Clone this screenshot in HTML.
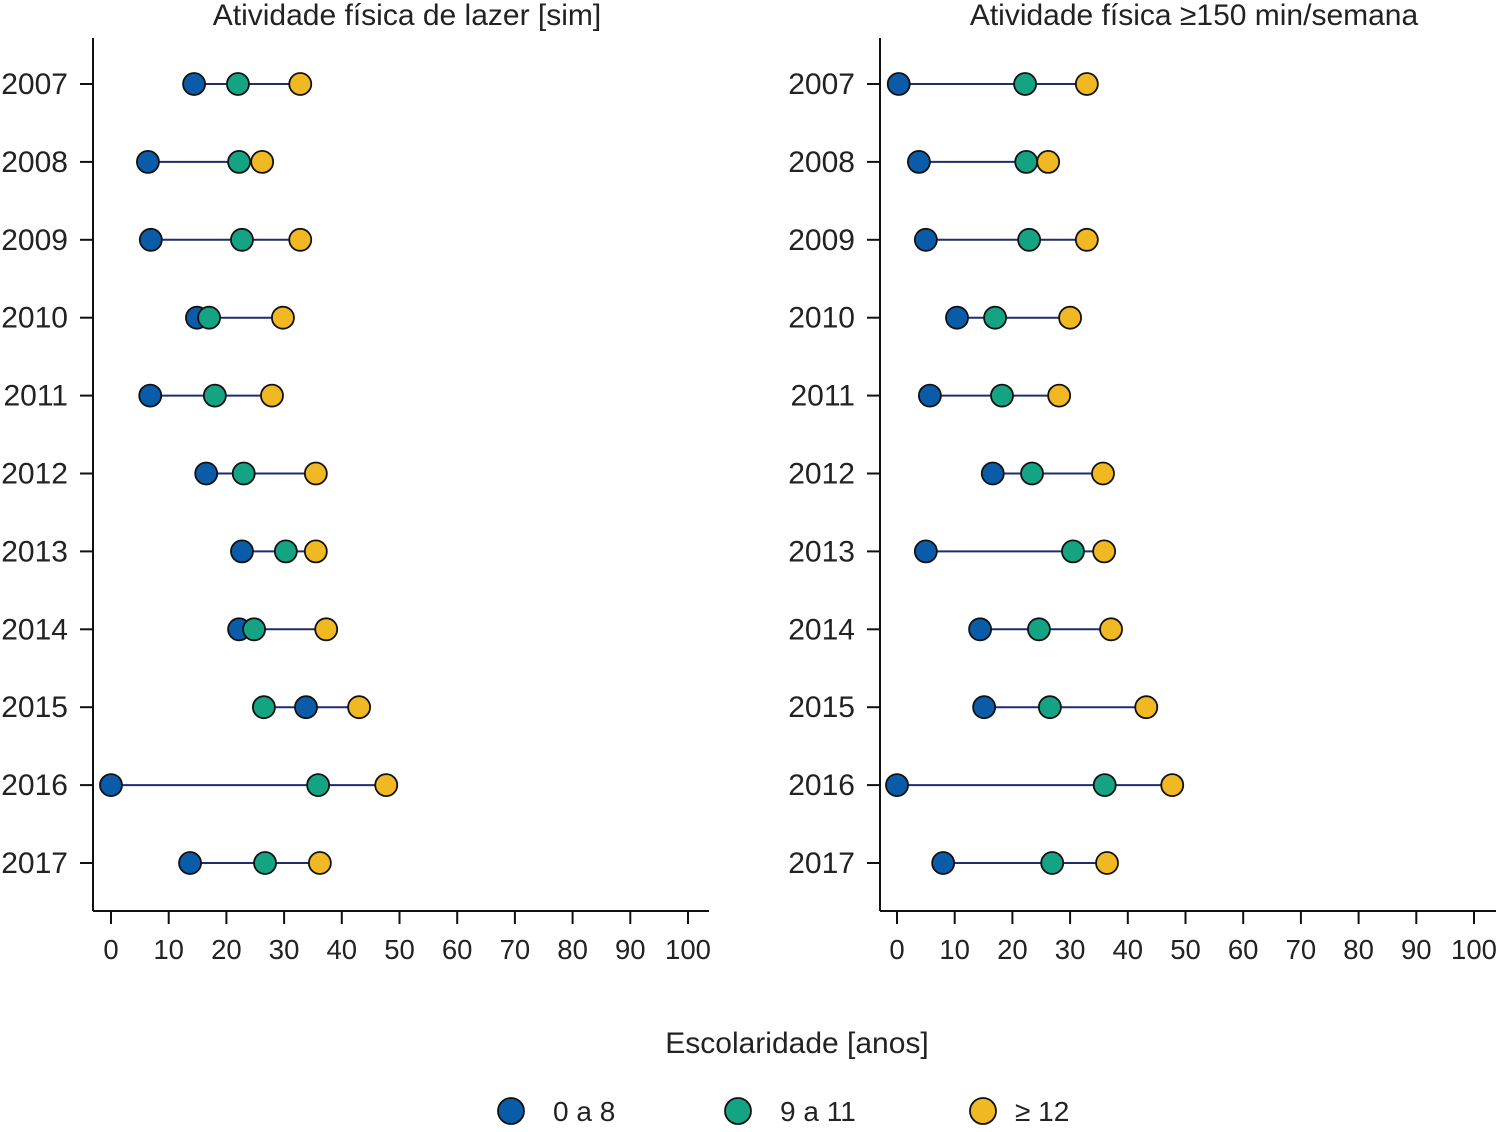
<!DOCTYPE html>
<html><head><meta charset="utf-8"><style>
body{margin:0;background:#fff}
svg text{font-family:"Liberation Sans",sans-serif;fill:#222}
</style></head><body>
<svg id="chart" width="1500" height="1127" xmlns="http://www.w3.org/2000/svg"></svg>
<script>
const years=["2007","2008","2009","2010","2011","2012","2013","2014","2015","2016","2017"];
const xTicks=[0,10,20,30,40,50,60,70,80,90,100];
const leftTitle="Atividade física de lazer [sim]";
const rightTitle="Atividade física ≥150 min/semana";
const leftLow=[14.4,6.4,6.9,14.9,6.8,16.5,22.7,22.2,33.8,0,13.7];
const leftMid=[22,22.2,22.7,17,18,23,30.3,24.8,26.5,35.9,26.7];
const leftHigh=[32.8,26.2,32.8,29.8,27.9,35.5,35.5,37.3,43,47.7,36.2];
const rightLow=[0.3,3.8,5,10.4,5.7,16.6,5,14.4,15.1,0,8];
const rightMid=[22.2,22.4,22.9,17,18.2,23.4,30.5,24.6,26.5,36,26.9];
const rightHigh=[32.9,26.2,32.9,30,28.1,35.7,35.9,37.1,43.2,47.7,36.4];
const colors=["#0a5ca8","#14a383","#f0b823"];
const legendLabels=["0 a 8","9 a 11","≥ 12"];
const NS="http://www.w3.org/2000/svg";
const svg=document.getElementById('chart');
function mk(tag,attrs,parent){const e=document.createElementNS(NS,tag);for(const k in attrs)e.setAttribute(k,attrs[k]);(parent||svg).appendChild(e);return e;}
function panel(x0,axisX,title,low,mid,high,name){
  const g=mk('g',{});
  
  
  const xs=v=>x0+v*5.77;
  const ys=i=>84+i*77.9;
  const t=mk('text',{x:axisX+314,y:25,'font-size':30,'text-anchor':'middle'},g);t.textContent=title;
  
  
  const ya=mk('line',{x1:axisX,y1:38,x2:axisX,y2:911,stroke:'#111','stroke-width':2},g);
  
  
  const xa=mk('line',{x1:axisX,y1:911,x2:axisX+616,y2:911,stroke:'#111','stroke-width':2},g);
  
  
  xTicks.forEach(v=>{
    mk('line',{x1:xs(v),y1:911,x2:xs(v),y2:924,stroke:'#111','stroke-width':2},g);
    const tl=mk('text',{x:xs(v),y:959,'font-size':27.5,'text-anchor':'middle'},g);tl.textContent=v;
    
    
  });
  years.forEach((yr,i)=>{
    const y=ys(i);
    mk('line',{x1:axisX-13,y1:y,x2:axisX,y2:y,stroke:'#111','stroke-width':2},g);
    const yl=mk('text',{x:axisX-25,y:y+10,'font-size':30,'text-anchor':'end'},g);yl.textContent=yr;
    
    
    const vals=[low[i],mid[i],high[i]];
    const mn=Math.min(...vals),mx=Math.max(...vals);
    const l=mk('line',{x1:xs(mn),y1:y,x2:xs(mx),y2:y,stroke:'#1f2d6b','stroke-width':2},g);
    
    
    vals.forEach((v,k)=>{
      const c=mk('circle',{cx:xs(v),cy:y,r:11,fill:colors[k],stroke:'#111','stroke-width':1.8},g);
      
      
    });
  });
}
panel(111,93,leftTitle,leftLow,leftMid,leftHigh,'left-panel');
panel(897,880,rightTitle,rightLow,rightMid,rightHigh,'right-panel');
const lt=mk('text',{x:797,y:1053,'font-size':30,'text-anchor':'middle'});lt.textContent="Escolaridade [anos]";


const lx=[511,738,983],tx=[553,780,1015];
legendLabels.forEach((s,k)=>{
  const c=mk('circle',{cx:lx[k],cy:1111,r:13,fill:colors[k],stroke:'#111','stroke-width':1.8});
  
  
  const t=mk('text',{x:tx[k],y:1121,'font-size':28});t.textContent=s;
  
  
});
</script>
</body></html>
